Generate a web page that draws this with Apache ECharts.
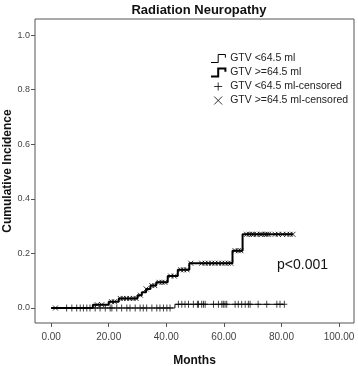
<!DOCTYPE html>
<html>
<head>
<meta charset="utf-8">
<script src="https://cdn.jsdelivr.net/npm/echarts@6/dist/echarts.min.js"></script>
<style>
  html, body { margin: 0; padding: 0; background: #fff; }
  #chart { width: 358px; height: 366px; }
</style>
</head>
<body>
<div id="chart"></div>
<script>
// step points [month, cumulative incidence]
const lowSteps = [[0, 0], [43, 0.0135], [81, 0.0135]]
const highSteps = [
  [0, 0], [14.5, 0.012], [20, 0.023], [23.5, 0.035], [30, 0.047], [31.5, 0.058],
  [33, 0.07], [34.5, 0.082], [36.5, 0.094], [40.5, 0.117], [44, 0.14], [48, 0.164],
  [63, 0.21], [66.5, 0.27], [84, 0.27],
]
// censored times (months)
const lowCensored = [
  5.4, 7.2, 8.9, 10.1, 11.2, 12.4, 13.5, 15.3, 17, 18.8, 20.5, 21.1, 22.8, 24.5, 26.3,
  27.4, 29.2, 30.9, 32, 33.2, 35, 36.7, 37.8, 39, 40.2, 41.3, 44.2, 45.4, 46.5, 47.7,
  49.4, 50.8, 51.2, 52.3, 52.9, 53.5, 56.4, 58.1, 59.3, 59.8, 60.4, 61, 63.9, 65, 66.2,
  67.4, 68.5, 69.1, 71.9, 74.9, 78.4, 79.5, 81,
]
const highCensored = [
  1.5, 16, 17.6, 21, 22, 24, 25, 26.2, 27.3, 28.5, 29.5, 31, 33, 35, 36, 37.5, 38.5,
  39.5, 41.5, 42.8, 45, 46, 47.2, 48.5, 52.3, 53.5, 54.6, 55.8, 56.9, 58.1, 59.3, 60.4,
  61.5, 62.4, 63.9, 65, 65.9, 67.9, 68.8, 69.7, 70.3, 71.4, 72.6, 73.2, 74.3, 74.9, 75.5,
  77.8, 78.9, 80.4, 81.8, 83, 84,
]
const xTicks = [0, 20, 40, 60, 80, 100]
const yTicks = [0, 0.2, 0.4, 0.6, 0.8, 1.0]
const seriesNames = ['GTV <64.5 ml', 'GTV >=64.5 ml', 'GTV <64.5 ml-censored', 'GTV >=64.5 ml-censored']

const FONT = 'Liberation Sans, Arial, sans-serif'
const stepIcon = 'path://M0,10L9,10L9,0L18,0L18,4'
const plusIcon = 'path://M0,5L10,5M5,0L5,10'
const crossIcon = 'path://M0,0L10,10M10,0L0,10'

// level of the step curve at time t
function levelAt(steps, t) {
  let v = 0
  steps.forEach((p) => {
    if (t >= p[0])
      v = p[1]
  })
  return v
}

const chart = echarts.init(document.getElementById('chart'))

chart.setOption({
  animation: false,
  title: {
    text: 'Radiation Neuropathy',
    left: 194,
    textAlign: 'center',
    top: -1,
    textStyle: { fontFamily: FONT, fontSize: 13, fontWeight: 'bold', color: '#111' },
  },
  legend: {
    orient: 'vertical',
    left: 205,
    top: 48,
    itemWidth: 18,
    itemHeight: 8,
    itemGap: 3,
    textStyle: { fontFamily: FONT, fontSize: 10.5, color: '#222', padding: [0, 0, 0, -2] },
    data: [
      { name: seriesNames[0], icon: stepIcon, itemStyle: { color: 'transparent', borderColor: '#000', borderWidth: 1 } },
      { name: seriesNames[1], icon: stepIcon, itemStyle: { color: 'transparent', borderColor: '#000', borderWidth: 2 } },
      { name: seriesNames[2], icon: plusIcon, itemStyle: { color: 'transparent', borderColor: '#000', borderWidth: 1 } },
      { name: seriesNames[3], icon: crossIcon, itemStyle: { color: 'transparent', borderColor: '#000', borderWidth: 1 } },
    ],
  },
  grid: {
    left: 35,
    right: 4,
    top: 19,
    bottom: 43,
    outerBoundsMode: 'none',
    containLabel: false,
    show: true,
    borderColor: '#555',
    borderWidth: 1,
  },
  xAxis: {
    type: 'value',
    min: -5.6,
    max: 105.2,
    name: 'Months',
    nameLocation: 'middle',
    nameGap: 32,
    nameMoveOverlap: false,
    nameTextStyle: { fontFamily: FONT, fontSize: 12, fontWeight: 'bold', color: '#111' },
    axisLine: { show: false, onZero: false },
    splitLine: { show: false },
    axisTick: { show: true, customValues: xTicks, length: 4, lineStyle: { color: '#555' } },
    axisLabel: {
      customValues: xTicks,
      margin: 9,
      fontFamily: FONT,
      fontSize: 10,
      color: '#444',
      formatter: v => v.toFixed(2),
    },
  },
  yAxis: {
    type: 'value',
    min: -0.055,
    max: 1.059,
    name: 'Cumulative Incidence',
    nameLocation: 'middle',
    nameGap: 21,
    nameMoveOverlap: false,
    nameTextStyle: { fontFamily: FONT, fontSize: 12, fontWeight: 'bold', color: '#111' },
    axisLine: { show: false, onZero: false },
    splitLine: { show: false },
    axisTick: { show: true, customValues: yTicks, length: 4, lineStyle: { color: '#555' } },
    axisLabel: {
      customValues: yTicks,
      margin: 5,
      fontFamily: FONT,
      fontSize: 9,
      color: '#444',
      formatter: v => v.toFixed(1),
    },
  },
  graphic: [
    {
      type: 'text',
      left: 277,
      top: 258,
      style: { text: 'p<0.001', fontFamily: FONT, fontSize: 14, fill: '#111' },
    },
  ],
  series: [
    {
      name: seriesNames[0],
      type: 'line',
      step: 'end',
      symbol: 'none',
      lineStyle: { color: '#000', width: 1 },
      itemStyle: { color: '#000' },
      data: lowSteps,
    },
    {
      name: seriesNames[1],
      type: 'line',
      step: 'end',
      symbol: 'none',
      lineStyle: { color: '#000', width: 2 },
      itemStyle: { color: '#000' },
      data: highSteps,
    },
    {
      name: seriesNames[2],
      type: 'scatter',
      symbol: plusIcon,
      symbolSize: [6, 7],
      itemStyle: { color: 'transparent', borderColor: '#000', borderWidth: 1 },
      data: lowCensored.map(t => [t, levelAt(lowSteps, t)]),
    },
    {
      name: seriesNames[3],
      type: 'scatter',
      symbol: crossIcon,
      symbolSize: 5,
      itemStyle: { color: 'transparent', borderColor: '#000', borderWidth: 1 },
      data: highCensored.map(t => [t, levelAt(highSteps, t)]),
    },
  ],
})
</script>
</body>
</html>
